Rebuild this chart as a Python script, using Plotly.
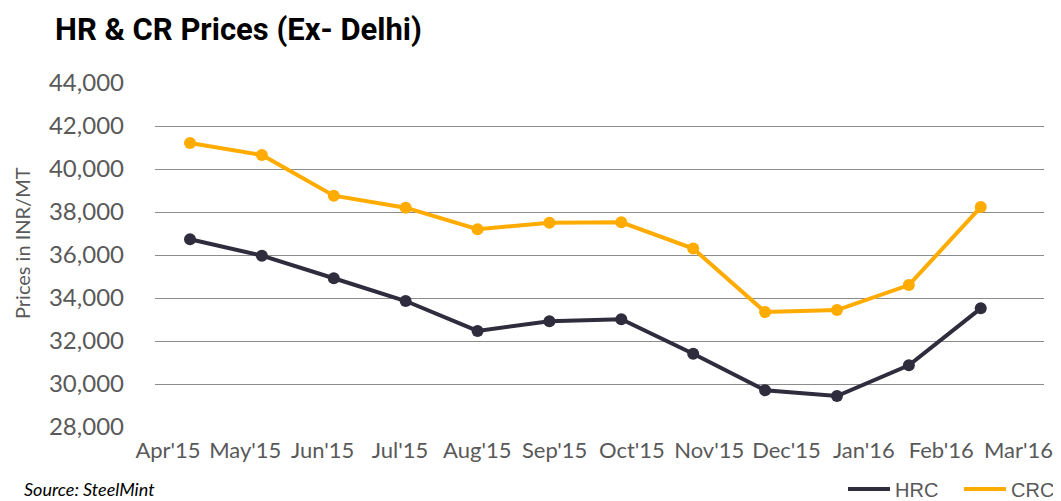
import plotly.graph_objects as go

months = ["Apr'15", "May'15", "Jun'15", "Jul'15", "Aug'15", "Sep'15",
          "Oct'15", "Nov'15", "Dec'15", "Jan'16", "Feb'16", "Mar'16"]
hrc = [36730, 35970, 34920, 33860, 32470, 32920, 33010, 31410, 29710, 29440, 30870, 33520]
crc = [41210, 40650, 38760, 38200, 37200, 37500, 37520, 36300, 33350, 33440, 34600, 38230]

HRC_COLOR = "#2f2c3e"
CRC_COLOR = "#ffab00"
idx = list(range(len(months)))

# page body has an 8px margin: screen = figure + 8
OFF = 8
PL, PR, PT, PB = 155, 1044, 83, 427  # plot area in screen pixels
W, H = 1061, 501


def px(x):
    return (x - PL) / (PR - PL)


def py(y):
    return (PB - y) / (PB - PT)


fig = go.Figure()
for name, vals, col in [("HRC", hrc, HRC_COLOR), ("CRC", crc, CRC_COLOR)]:
    fig.add_trace(go.Scatter(x=idx, y=vals, mode="lines+markers", name=name,
                             line=dict(color=col, width=4),
                             marker=dict(color=col, size=12),
                             showlegend=False, hoverinfo="skip"))
    fig.add_trace(go.Scatter(x=[None], y=[None], mode="lines", name=name,
                             line=dict(color=col, width=4), showlegend=True))

# carrier for the category tick labels on the secondary x axis
fig.add_trace(go.Scatter(x=idx, y=hrc, xaxis="x2", mode="markers",
                         marker=dict(opacity=0), showlegend=False, hoverinfo="skip"))

fig.update_layout(
    width=W, height=H,
    margin=dict(l=PL - OFF, r=W - (PR - OFF), t=PT - OFF, b=H - (PB - OFF), autoexpand=False),
    plot_bgcolor="white", paper_bgcolor="white",
    title=dict(text="<b>HR & CR Prices (Ex- Delhi)</b>",
               font=dict(family="Roboto", size=31, color="black"),
               x=(55 - OFF) / W, xanchor="left", y=1 - (29 - OFF) / H, yanchor="middle"),
    xaxis=dict(range=[-0.487, 11.88], showticklabels=False, showgrid=False,
               zeroline=False, showline=False),
    xaxis2=dict(range=[-0.168, 11.33], overlaying="x", anchor="y", side="bottom",
                tickmode="array", tickvals=idx, ticktext=months,
                tickfont=dict(family="Lato", size=22, color="#595959"),
                showgrid=False, zeroline=False, showline=False, ticks="",
                ticklabelstandoff=8),
    yaxis=dict(range=[28000, 44000], tickmode="linear", tick0=28000, dtick=2000,
               tickformat=",d", showgrid=True, gridcolor="#8c8c8c", gridwidth=1,
               zeroline=False, showline=False, ticks="",
               tickfont=dict(family="Lato", size=24, color="#595959"),
               ticklabelstandoff=30),
    legend=dict(orientation="h", x=px(843), xanchor="left",
                y=py(489), yanchor="middle", itemwidth=42, entrywidth=59,
                font=dict(family="Liberation Sans, Arial", size=20, color="#595959"),
                bgcolor="rgba(0,0,0,0)"),
    annotations=[
        dict(text="Prices in INR/MT", xref="paper", yref="paper",
             x=px(22), y=py(243), textangle=-90, showarrow=False,
             xanchor="center", yanchor="middle",
             font=dict(family="Lato", size=20, color="#595959")),
        dict(text="<i>Source: SteelMint</i>", xref="paper", yref="paper",
             x=px(22), y=py(476), showarrow=False,
             xanchor="left", yanchor="top",
             font=dict(family="Lato", size=18, color="#000000")),
    ],
)

fig.write_html("out.html")
